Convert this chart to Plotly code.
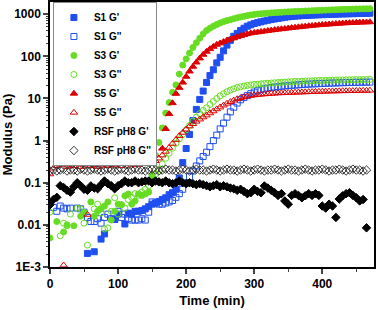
import plotly.graph_objects as go

time_min = list(range(0, 471, 5))

s1_gp = [None]*10 + [
    None, 0.0021, None, 0.0023, None, 0.0046, 0.0061, None, None, 0.0135,
    0.018, None, 0.0105, 0.019, 0.018, 0.021, 0.021, 0.022, 0.024, 0.027,
    0.031, 0.033, 0.036, 0.040, 0.044, 0.052, 0.058, 0.070, 0.13, 0.30,
    0.65, 1.4, 3.0, 5.5, 9.5, 15, 24, 35, 48, 70,
    95, 135, 185, 240, 300, 350, 410, 465, 520, 560,
    600, 630, 660, 690, 720, 745, 770, 795, 820, 845,
    870, 885, 900, 912, 925, 935, 945, 952, 960, 968,
    975, 982, 990, 995, 1000, 1008, 1015, 1020, 1025, 1030,
    1035, 1040, 1045, 1050, 1055]

s1_gpp = [
    None, 0.026, 0.021, 0.028, 0.025, 0.024, 0.025, None, 0.025, 0.024,
    0.020, 0.015, 0.012, 0.012, 0.014, 0.011, 0.015, 0.018, 0.014, 0.0135,
    0.021, 0.015, 0.018, 0.014, 0.013, 0.013, 0.013, 0.014, 0.013, 0.020,
    0.035, 0.033, 0.031, 0.031, 0.033, 0.035, 0.038, 0.045, 0.055, 0.07,
    0.10, 0.14, 0.19, 0.25, 0.33, 0.42, 0.53, 0.72, 1.0, 1.35,
    1.9, 2.6, 3.6, 4.8, 6.2, 7.8, 9.3, 10.5, 11.7, 13,
    14.2, 15.3, 16.2, 17, 17.6, 18.2, 18.7, 19.1, 19.5, 19.9,
    20.2, 20.5, 20.8, 21.1, 21.4, 21.7, 21.9, 22.1, 22.3, 22.5,
    22.7, 22.9, 23.1, 23.2, 23.4, 23.5, 23.7, 23.8, 23.9, 24.0,
    24.1, 24.2, 24.3, 24.4, 24.5]

s3_gp = [
    0.0049, None, 0.012, None, 0.0068, 0.010, None, 0.0095, None, 0.016,
    0.020, None, 0.035, 0.016, 0.021, 0.024, 0.028, 0.035, 0.013, 0.021,
    0.031, 0.030, 0.049, 0.054, 0.031, 0.037, 0.054, 0.050, 0.054, 0.060,
    0.15, 0.45, 0.9, 2.0, 4.5, 8.0, 14, 21, 38, 62,
    87, 120, 163, 210, 270, 340, 410, 465, 520, 570,
    620, 665, 705, 740, 780, 820, 860, 890, 930, 960,
    990, 1010, 1030, 1045, 1060, 1075, 1090, 1100, 1110, 1125,
    1140, 1150, 1160, 1170, 1180, 1190, 1200, 1210, 1220, 1230,
    1240, 1250, 1260, 1270, 1280, 1290, 1300, 1305, 1310, 1320,
    1330, 1335, 1340, 1345, 1350]

s3_gpp = [
    0.020, None, None, 0.0055, 0.011, 0.0095, 0.018, None, 0.025, 0.024,
    0.011, 0.0033, None, 0.024, 0.031, 0.019, 0.008, 0.0085, 0.021, 0.044,
    0.018, 0.030, 0.025, 0.040, 0.045, 0.055, 0.050, 0.060, 0.070, 0.085,
    0.12, 0.16, 0.21, 0.28, 0.38, 0.50, 0.66, 0.86, 1.1, 1.4,
    1.8, 2.3, 2.9, 3.6, 4.4, 5.2, 6.0, 7.2, 8.5, 10,
    11.5, 13, 14.5, 15.8, 17, 18.2, 19, 19.8, 20.4, 21,
    21.5, 21.9, 22.3, 22.7, 23, 23.3, 23.6, 23.9, 24.2, 24.5,
    24.8, 25, 25.3, 25.5, 25.7, 25.9, 26.1, 26.3, 26.5, 26.7,
    26.8, 27, 27.1, 27.3, 27.4, 27.5, 27.6, 27.7, 27.8, 27.9,
    28, 28, 28.1, 28.2, 28.2]

s5_gp = [None]*33 + [
    0.65, 1.9, 4.3, 7.8, 13, 18, 24,
    33, 44, 57, 72, 90, 110, 130, 150, 170, 190,
    205, 222, 240, 255, 270, 288, 305, 322, 340, 355,
    365, 375, 385, 395, 405, 415, 425, 435, 445, 455,
    465, 475, 485, 495, 505, 515, 525, 535, 545, 553,
    562, 570, 578, 586, 594, 602, 610, 616, 622, 628,
    634, 638, 642, 646, 650]

s5_gpp = [
    0.16, 0.22, 0.25, 0.27, 0.0011, 0.24, 0.26, 0.25, 0.28, 0.24,
    0.26, 0.0175, 0.25, 0.27, 0.24, 0.26, 0.28, 0.25, 0.27, 0.26,
    0.29, 0.25, 0.28, 0.30, 0.26, 0.29, 0.27, 0.30, 0.28, 0.29,
    0.30, 0.33, 0.38, 0.45, 0.55, 0.68, 0.85, 1.05, 1.3, 1.55,
    1.85, 2.2, 2.5, 2.85, 3.2, 3.6, 4.0, 4.5, 5.0, 5.6,
    6.2, 6.9, 7.6, 8.3, 9.0, 9.7, 10.3, 10.8, 11.3, 11.7,
    12.0, 12.3, 12.5, 12.7, 12.9, 13.1, 13.2, 13.4, 13.5, 13.6,
    13.7, 13.8, 13.9, 14.0, 14.1, 14.2, 14.3, 14.4, 14.5, 14.6,
    14.6, 14.7, 14.8, 14.9, 14.9, 15.0, 15.1, 15.1, 15.2, 15.2,
    15.3, 15.3, 15.4, 15.4, 15.5]

rsf_gp = [
    0.03, 0.04, 0.045, 0.085, 0.077, 0.066, 0.06, 0.08, 0.1, 0.085,
    0.07, 0.066, 0.084, 0.075, 0.072, 0.09, 0.11, 0.095, 0.085, 0.072,
    0.085, 0.095, 0.11, 0.1, 0.1, 0.11, 0.1, 0.105, 0.11, 0.11,
    0.1, 0.11, 0.105, 0.1, 0.11, 0.1, 0.095, 0.1, 0.11, 0.1,
    0.095, 0.1, 0.095, 0.09, 0.095, 0.09, 0.085, 0.08, 0.085, 0.09,
    0.08, 0.085, 0.08, 0.075, 0.072, 0.066, 0.07, 0.062, 0.055, 0.058,
    0.07, 0.062, 0.058, 0.084, 0.075, 0.066, 0.058, 0.05, 0.055, 0.037,
    0.031, 0.05, 0.055, 0.05, 0.044, 0.049, 0.055, 0.05, 0.055, 0.05,
    0.028, 0.025, 0.031, 0.028, 0.015, 0.041, 0.049, 0.055, 0.058, 0.05,
    0.044, 0.037, 0.04, 0.0085, None]

rsf_gpp = [
    0.19, 0.20, 0.19, 0.20, 0.21, 0.19, 0.20, 0.20, 0.19, 0.21,
    0.20, 0.19, 0.20, 0.21, 0.20, 0.19, 0.20, 0.21, 0.20, 0.19,
    0.20, 0.21, 0.20, 0.19, 0.20, 0.21, 0.20, 0.20, 0.19, 0.20,
    0.21, 0.20, 0.19, 0.20, 0.21, 0.20, 0.20, 0.19, 0.20, 0.21,
    0.20, 0.19, 0.20, 0.21, 0.20, 0.20, 0.19, 0.20, 0.21, 0.20,
    0.19, 0.20, 0.21, 0.20, 0.20, 0.19, 0.20, 0.21, 0.20, 0.19,
    0.20, 0.21, 0.20, 0.19, 0.20, 0.20, 0.21, 0.20, 0.19, 0.20,
    0.21, 0.20, 0.20, 0.19, 0.20, 0.21, 0.20, 0.19, 0.20, 0.20,
    0.21, 0.20, 0.19, 0.20, 0.20, 0.21, 0.20, 0.19, 0.20, 0.21,
    0.20, 0.20, 0.19, 0.20, None]

y_tickvals = [0.001, 0.01, 0.1, 1, 10, 100, 1000]
y_ticktext = ["1E-3", "0.01", "0.1", "1", "10", "100", "1000"]
x_tickvals = [0, 100, 200, 300, 400]

BLUE = "#1f4ff0"
GREEN = "#66dd22"
RED = "#dd0000"
BLACK = "#000000"

series = [
    ("S1 G'", s1_gp, "square", BLUE, 6),
    ("S1 G''", s1_gpp, "square-open", BLUE, 6),
    ("S3 G'", s3_gp, "circle", GREEN, 6),
    ("S3 G''", s3_gpp, "circle-open", GREEN, 6),
    ("S5 G'", s5_gp, "triangle-up", RED, 6.5),
    ("S5 G''", s5_gpp, "triangle-up-open", RED, 6.5),
    ("RSF pH8 G'", rsf_gp, "diamond", BLACK, 6.5),
    ("RSF pH8 G''", rsf_gpp, "diamond-open", "#333333", 6.5),
]

fig = go.Figure()
for name, vals, sym, col, sz in series:
    fig.add_trace(go.Scatter(
        x=time_min, y=vals, mode="markers", name=name,
        marker=dict(symbol=sym, color=col, size=sz,
                    line=dict(width=1, color=col)),
    ))

font_family = "Liberation Sans, Arial, sans-serif"
fig.update_layout(
    width=378, height=310,
    margin=dict(l=50, r=4, t=2, b=43, autoexpand=False),
    paper_bgcolor="white", plot_bgcolor="white",
    font=dict(family=font_family, size=12, color="black", weight="bold"),
    showlegend=True,
    legend=dict(x=0.009, y=1.0, xanchor="left", yanchor="top",
                bgcolor="white", bordercolor="#888888", borderwidth=1,
                font=dict(size=10, weight="bold"),
                itemsizing="trace", itemwidth=30, tracegroupgap=0),
    xaxis=dict(range=[0, 476], showline=True, linecolor="black", linewidth=1.5,
               mirror=True, ticks="outside", ticklen=5, tickwidth=1.5,
               tickmode="array", tickvals=x_tickvals, showgrid=False, zeroline=False,
               automargin=False,
               minor=dict(ticks="outside", ticklen=3, tickwidth=1.2,
                          tickmode="array", tickvals=[50, 150, 250, 350, 450]),
               title=dict(text="Time (min)", font=dict(size=13, weight="bold"), standoff=6),
               tickfont=dict(size=12, weight="bold")),
    yaxis=dict(type="log", range=[-3, 3.29], showline=True, linecolor="black", linewidth=1.5,
               mirror=True, ticks="outside", ticklen=5, tickwidth=1.5,
               tickmode="array", tickvals=y_tickvals, ticktext=y_ticktext,
               showgrid=False, zeroline=False, automargin=False,
               minor=dict(ticks="outside", ticklen=2, tickwidth=1,
                          tickmode="array",
                          tickvals=[m * 10.0**e for e in range(-3, 3) for m in range(2, 10)]),
               title=dict(text="Modulus (Pa)", font=dict(size=13, weight="bold"), standoff=4),
               tickfont=dict(size=12, weight="bold")),
)

fig.write_html("out.html",
               config={"displayModeBar": False},
               post_script="document.body.style.margin='0';document.body.style.overflow='hidden';")
